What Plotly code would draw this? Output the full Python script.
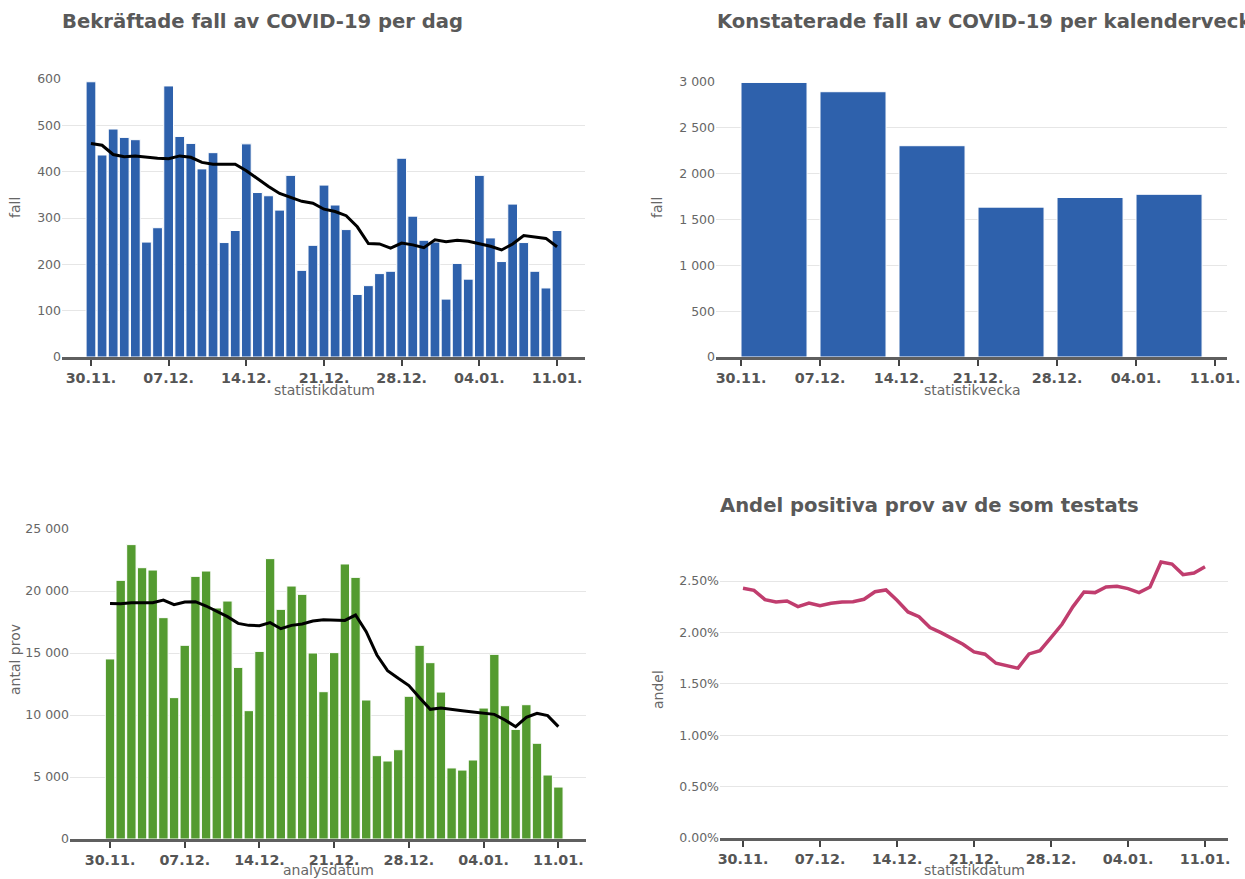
import pandas as pd
import plotly.graph_objects as go

# ---------------- data ----------------
days = pd.date_range("2020-11-30", "2021-01-11", freq="D")

cases_daily = [594, 436, 492, 474, 469, 248, 279,
               585, 476, 461, 406, 441, 247, 273,
               460, 355, 348, 317, 392, 187, 241,
               371, 328, 275, 135, 154, 180, 185,
               429, 304, 252, 248, 125, 202, 168,
               392, 257, 206, 330, 247, 185, 149,
               273]
cases_avg = [461, 457, 437, 432, 434, 431, 429,
             428, 434, 431, 420, 416, 416, 416,
             402, 384, 368, 353, 344, 336, 332,
             319, 314, 305, 281, 245, 244, 235,
             246, 242, 236, 253, 249, 252, 250,
             245, 239, 231, 244, 262, 259, 256,
             238]

weeks = pd.date_range("2020-11-30", "2021-01-04", freq="7D")
cases_weekly = [2995, 2894, 2305, 1635, 1740, 1775]

tests_daily = [14520, 20860, 23740, 21880, 21690, 17850, 11400,
               15620, 21180, 21610, 18630, 19190, 13840, 10350,
               15130, 22610, 18520, 20400, 19730, 15000, 11880,
               15030, 22180, 21100, 11210, 6720, 6290, 7200,
               11510, 15620, 14220, 11850, 5730, 5560, 6370,
               10560, 14890, 10750, 8840, 10830, 7720, 5160,
               4190]
tests_avg = [19000, 18980, 19060, 19060, 19060, 19270, 18900,
             19110, 19140, 18790, 18330, 17930, 17390, 17230,
             17200, 17450, 16960, 17230, 17340, 17580, 17690,
             17660, 17630, 18060, 16720, 14840, 13580, 12960,
             12370, 11400, 10460, 10560, 10430, 10350, 10240,
             10130, 10050, 9600, 9060, 9810, 10130, 9950,
             9060]

# percent
positive_share = [2.429, 2.409, 2.319, 2.296, 2.306, 2.251, 2.286,
                  2.260, 2.283, 2.296, 2.299, 2.322, 2.396, 2.413,
                  2.312, 2.199, 2.153, 2.047, 1.998, 1.940, 1.885,
                  1.810, 1.788, 1.700, 1.674, 1.652, 1.791, 1.823,
                  1.949, 2.079, 2.251, 2.393, 2.387, 2.442, 2.448,
                  2.426, 2.387, 2.442, 2.685, 2.665, 2.562, 2.578,
                  2.639]

titles = ["Bekräftade fall av COVID-19 per dag",
          "Konstaterade fall av COVID-19 per kalendervecka",
          "Andel positiva prov av de som testats"]

# ---------------- style ----------------
W, H = 1245, 879
BLUE = "#2e61ac"
GREEN = "#549b30"
PINK = "#c03d6e"
FONT = "DejaVu Sans"
TITLE_C = "#595959"
TICK_C = "#666666"
AXIS_C = "#5f5f5f"
GRID_C = "#e6e6e6"


def px_x(p):
    return p / W


def px_y(p):
    return 1 - p / H


start = pd.Timestamp("2020-11-30")
end = pd.Timestamp("2021-01-11")


def drange(left_days, right_days):
    return [start - pd.Timedelta(days=left_days), end + pd.Timedelta(days=right_days)]


fig = go.Figure()

# Top-left: daily cases
fig.add_trace(go.Bar(x=days, y=cases_daily, marker=dict(color=BLUE, line=dict(color="white", width=1)),
                     xaxis="x", yaxis="y"))
fig.add_trace(go.Scatter(x=days, y=cases_avg, mode="lines", line=dict(color="black", width=3),
                         xaxis="x", yaxis="y"))

# Top-right: weekly cases
fig.add_trace(go.Bar(x=weeks, y=cases_weekly, offset=0, width=[5.85 * 86400000] * len(weeks),
                     marker=dict(color=BLUE, line=dict(color="white", width=1)),
                     xaxis="x2", yaxis="y2"))

# Bottom-left: tests
fig.add_trace(go.Bar(x=days, y=tests_daily, marker=dict(color=GREEN, line=dict(color="white", width=1)),
                     xaxis="x3", yaxis="y3"))
fig.add_trace(go.Scatter(x=days, y=tests_avg, mode="lines", line=dict(color="black", width=3),
                         xaxis="x3", yaxis="y3"))

# Bottom-right: share positive (percent -> fraction)
fig.add_trace(go.Scatter(x=days, y=[v / 100 for v in positive_share], mode="lines",
                         line=dict(color=PINK, width=3.5), xaxis="x4", yaxis="y4"))

xcommon = dict(type="date", tickformat="%d.%m.", dtick=7 * 86400000, tick0="2020-11-30",
               showgrid=False, showline=True, linecolor=AXIS_C, linewidth=3,
               ticks="outside", ticklen=6, tickwidth=2, tickcolor="#444444",
               tickfont=dict(family=FONT, size=14.3, color="#555555", weight="bold"),
               zeroline=False, fixedrange=True, automargin=False)
ycommon = dict(showgrid=True, gridcolor=GRID_C, gridwidth=1, showline=False, zeroline=False,
               ticks="", tickfont=dict(family=FONT, size=12.5, color=TICK_C), fixedrange=True,
               automargin=False)

fig.update_layout(
    template="none",
    xaxis=dict(xcommon, domain=[px_x(62), px_x(585)], range=drange(2.61, 2.52), anchor="y"),
    yaxis=dict(ycommon, domain=[px_y(357), px_y(79)], range=[0, 600], dtick=100,
               tickformat=",d", anchor="x"),
    xaxis2=dict(xcommon, domain=[px_x(716), px_x(1227)], range=drange(2.215, 1.06), anchor="y2"),
    yaxis2=dict(ycommon, domain=[px_y(357), px_y(82)], range=[0, 3000], dtick=500,
                tickformat=",d", anchor="x2"),
    xaxis3=dict(xcommon, domain=[px_x(70), px_x(586)], range=drange(3.75, 2.59), anchor="y3"),
    yaxis3=dict(ycommon, domain=[px_y(839), px_y(529)], range=[0, 25000], dtick=5000,
                tickformat=",d", anchor="x3"),
    xaxis4=dict(xcommon, domain=[px_x(720), px_x(1228)], range=drange(2.09, 2.09), anchor="y4"),
    yaxis4=dict(ycommon, domain=[px_y(838), px_y(555.3)], range=[0, 0.0275],
                tickvals=[0, 0.005, 0.01, 0.015, 0.02, 0.025], tickformat=".2%", anchor="x4"),
    bargap=0.12,
    separators=". ",
    showlegend=False,
    autosize=False,
    width=W, height=H,
    margin=dict(l=0, r=0, t=0, b=0, pad=0),
    paper_bgcolor="white", plot_bgcolor="white",
    font=dict(family=FONT),
)

ann = []
# titles
for text, x, y in [(titles[0], 60, 22), (titles[1], 715, 22), (titles[2], 718, 505)]:
    ann.append(dict(text=text, x=px_x(x), y=px_y(y), xref="paper", yref="paper",
                    xanchor="left", yanchor="middle", showarrow=False,
                    font=dict(family=FONT, size=19.6, color=TITLE_C, weight="bold")))
# axis titles
for text, x, y, ang in [("fall", 15, 208, -90), ("fall", 657, 208, -90),
                        ("antal prov", 15, 660, -90), ("andel", 658, 690, -90),
                        ("statistikdatum", 324, 390, 0), ("statistikvecka", 972, 390, 0),
                        ("analysdatum", 328, 870, 0), ("statistikdatum", 974, 870, 0)]:
    ann.append(dict(text=text, x=px_x(x), y=px_y(y), xref="paper", yref="paper",
                    xanchor="center", yanchor="middle", showarrow=False, textangle=ang,
                    font=dict(family=FONT, size=14, color=TICK_C)))
fig.update_layout(annotations=ann)

fig.write_html("out.html", config={"displayModeBar": False},
               post_script="document.body.style.margin='0';")
